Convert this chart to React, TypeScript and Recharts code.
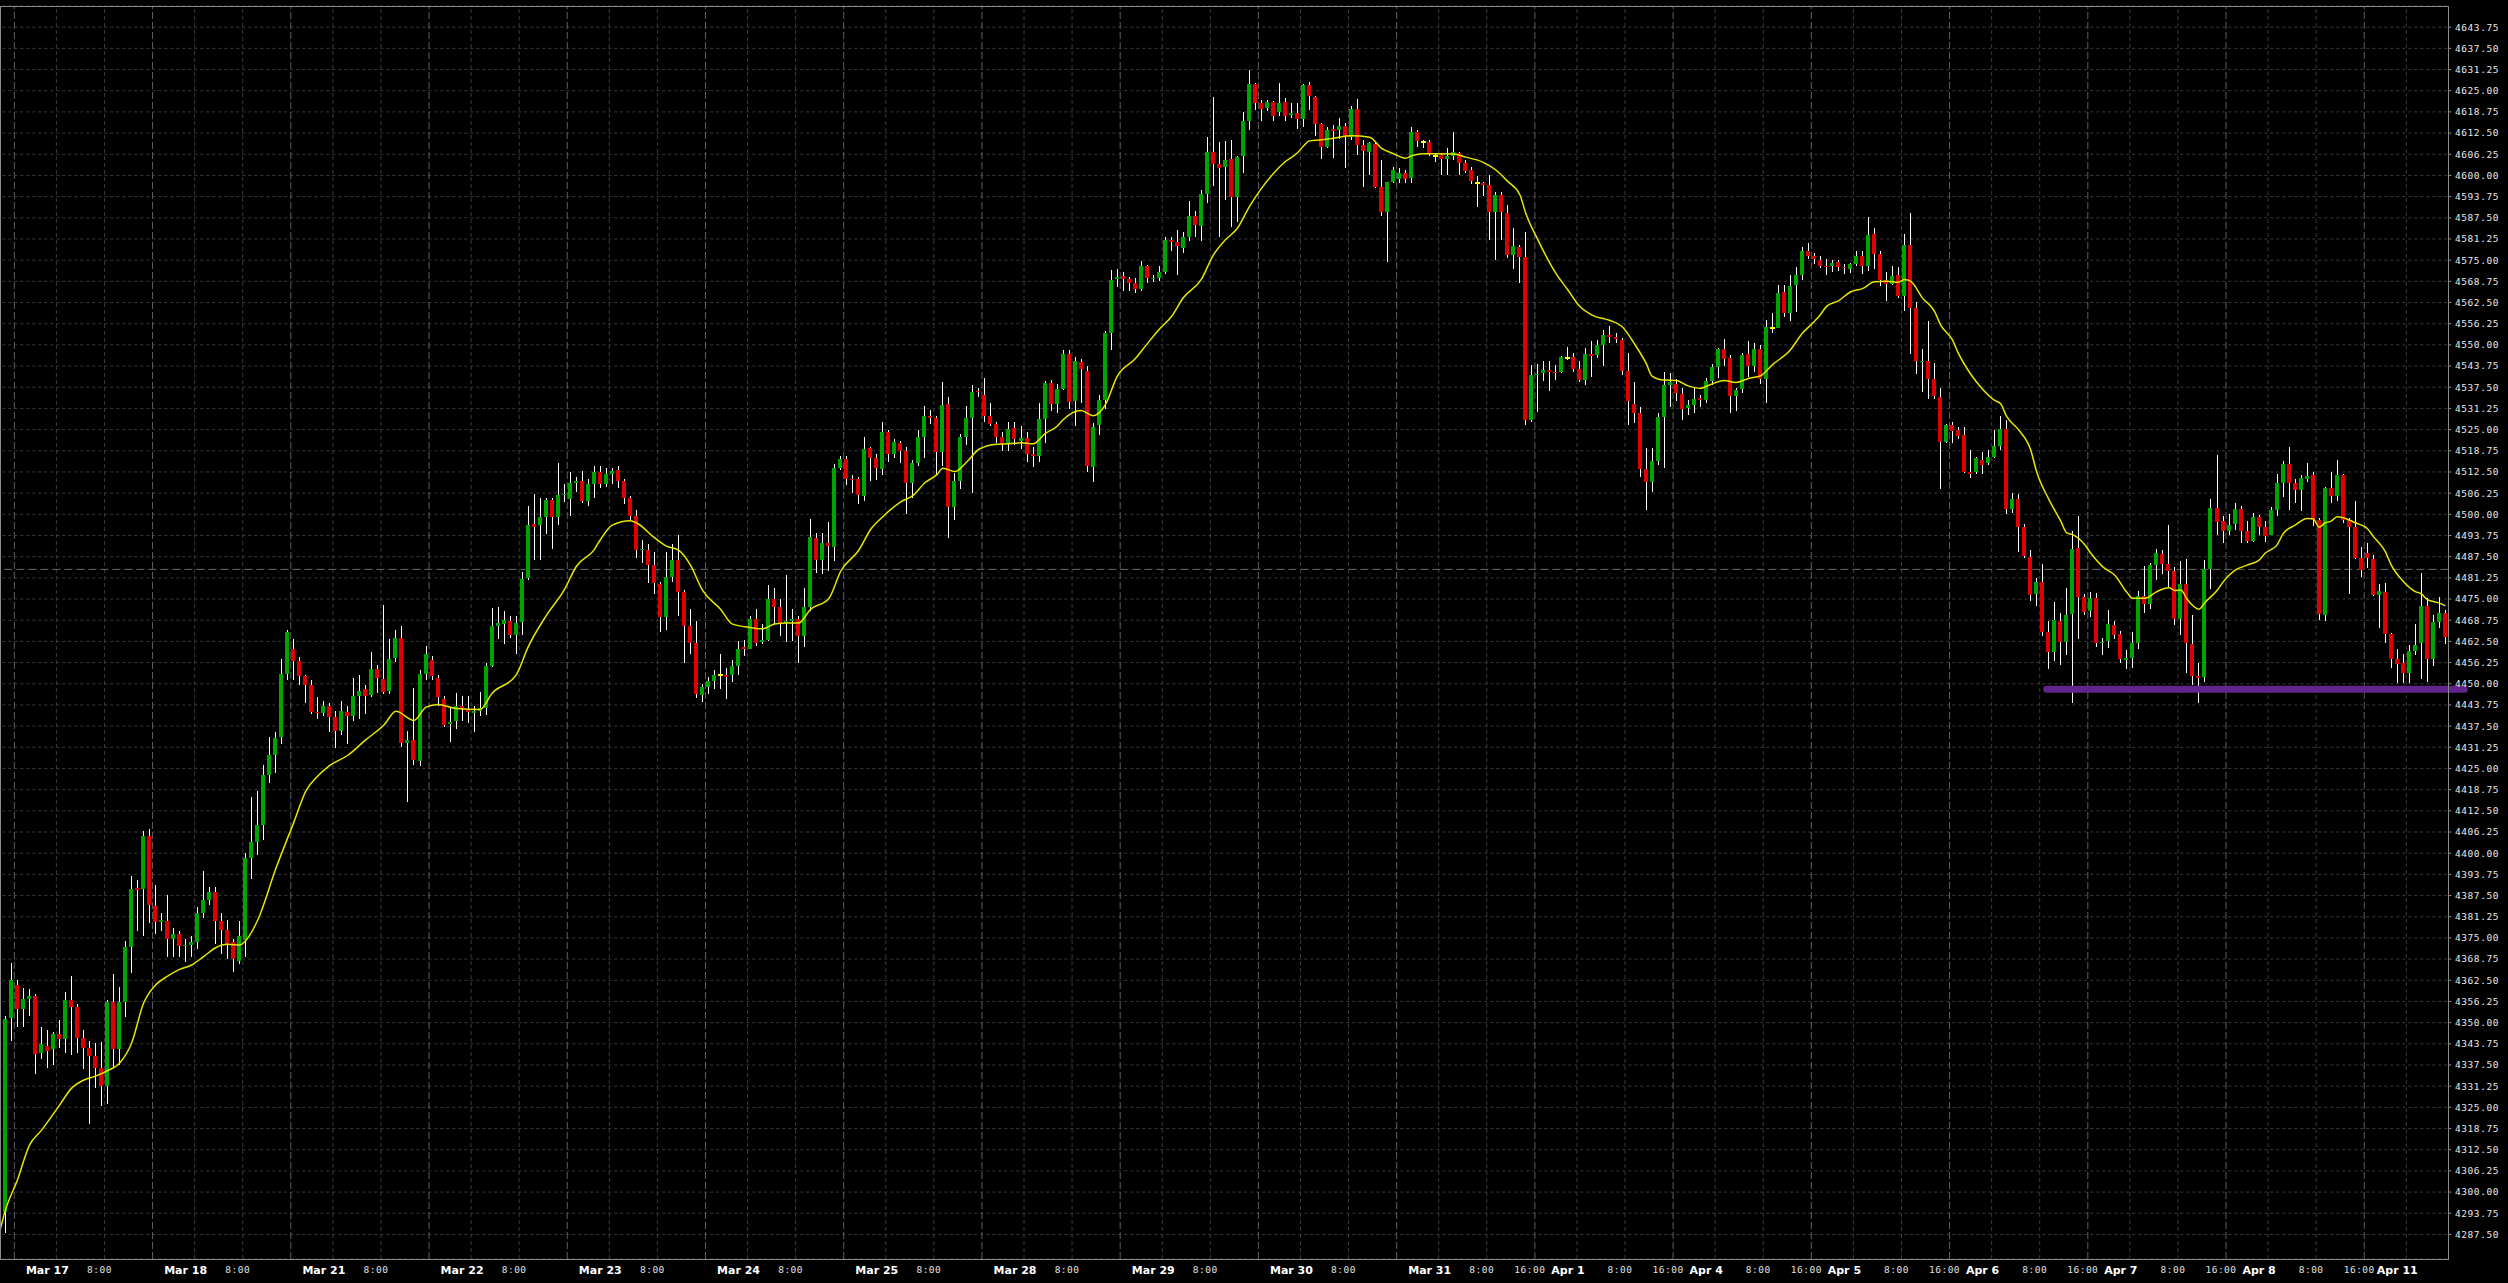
import React from "react";
import { ComposedChart, Bar, Line, XAxis, YAxis, CartesianGrid, ReferenceLine } from "recharts";

// ---------- hourly OHLC (bar index 0..407) ----------
const opens = [
  4307.7, 4294.2, 4351.5, 4361.1, 4354.0, 4357.0, 4357.8, 4341.1, 4343.0, 4342.3,
  4346.5, 4345.3, 4356.7, 4354.6, 4345.6, 4342.4, 4340.1, 4336.7, 4331.3, 4356.2,
  4342.2, 4356.2, 4372.4, 4389.6, 4389.3, 4405.0, 4384.5, 4379.6, 4380.0, 4374.8,
  4376.3, 4372.5, 4373.0, 4373.8, 4382.4, 4386.2, 4388.5, 4380.1, 4377.4, 4373.7,
  4368.3, 4374.5, 4398.7, 4403.3, 4408.4, 4423.1, 4428.9, 4434.3, 4452.9, 4460.2,
  4456.7, 4452.3, 4449.5, 4441.6, 4441.3, 4443.4, 4440.1, 4436.1, 4441.6, 4440.4,
  4446.5, 4448.4, 4446.8, 4454.4, 4451.3, 4448.0, 4457.6, 4463.5, 4432.4, 4433.5,
  4427.1, 4453.0, 4457.0, 4451.8, 4445.4, 4438.1, 4439.1, 4443.4, 4442.2, 4441.4,
  4441.9, 4442.7, 4455.3, 4467.0, 4467.7, 4468.6, 4464.3, 4468.3, 4481.1, 4497.1,
  4496.8, 4499.1, 4504.3, 4499.1, 4505.8, 4504.4, 4509.3, 4509.7, 4503.9, 4509.0,
  4512.5, 4509.0, 4511.9, 4513.1, 4509.9, 4504.9, 4499.6, 4489.4, 4489.6, 4485.0,
  4479.4, 4469.8, 4481.6, 4486.5, 4477.2, 4466.9, 4462.1, 4446.8, 4449.0, 4450.9,
  4452.5, 4452.6, 4452.5, 4455.2, 4460.7, 4460.4, 4469.1, 4462.4, 4462.9, 4475.1,
  4472.6, 4468.0, 4468.6, 4469.1, 4464.2, 4472.6, 4493.1, 4486.5, 4491.5, 4490.4,
  4513.6, 4516.3, 4510.5, 4510.3, 4505.5, 4519.6, 4516.7, 4513.4, 4524.2, 4517.9,
  4521.1, 4518.8, 4509.3, 4515.1, 4522.7, 4529.1, 4528.3, 4518.3, 4532.5, 4502.1,
  4509.9, 4522.7, 4528.3, 4536.3, 4535.3, 4529.1, 4526.6, 4522.7, 4521.1, 4525.4,
  4521.7, 4522.5, 4517.9, 4517.3, 4528.1, 4538.7, 4532.5, 4537.0, 4547.4, 4533.5,
  4545.0, 4542.2, 4514.0, 4526.3, 4533.7, 4553.4, 4569.3, 4570.4, 4569.3, 4568.3,
  4566.4, 4573.2, 4569.3, 4569.8, 4571.4, 4580.9, 4580.3, 4578.6, 4581.9, 4587.9,
  4585.0, 4594.4, 4607.0, 4603.4, 4602.4, 4604.8, 4593.5, 4605.6, 4616.1, 4627.0,
  4621.5, 4619.8, 4621.7, 4618.6, 4621.7, 4617.8, 4618.4, 4616.8, 4626.7, 4623.0,
  4615.1, 4608.5, 4613.6, 4613.4, 4614.7, 4611.3, 4619.5, 4609.0, 4607.0, 4609.3,
  4596.7, 4589.3, 4598.2, 4599.0, 4600.6, 4599.1, 4612.8, 4610.0, 4610.0, 4605.6,
  4606.1, 4604.8, 4605.6, 4606.6, 4603.6, 4601.6, 4597.9, 4597.7, 4597.2, 4589.3,
  4594.3, 4588.8, 4576.5, 4578.8, 4575.8, 4527.8, 4541.1, 4541.8, 4542.6, 4542.1,
  4542.1, 4546.2, 4546.3, 4542.8, 4539.6, 4547.3, 4547.0, 4550.0, 4552.9, 4552.2,
  4551.5, 4542.3, 4532.6, 4530.0, 4513.4, 4509.6, 4515.7, 4528.6, 4538.2, 4538.5,
  4535.5, 4531.3, 4532.3, 4534.2, 4533.7, 4539.3, 4543.6, 4548.7, 4546.0, 4535.0,
  4536.9, 4547.3, 4543.9, 4548.8, 4539.8, 4554.9, 4555.1, 4565.5, 4559.3, 4567.7,
  4570.6, 4577.8, 4576.3, 4575.1, 4573.3, 4573.3, 4574.4, 4573.0, 4572.5, 4573.8,
  4576.3, 4573.3, 4582.8, 4576.8, 4569.0, 4568.0, 4570.6, 4564.3, 4579.5, 4560.9,
  4544.8, 4545.3, 4539.9, 4534.6, 4521.4, 4526.4, 4524.9, 4523.4, 4512.5, 4512.5,
  4516.1, 4515.0, 4517.0, 4520.1, 4525.1, 4501.7, 4504.5, 4496.3, 4487.5, 4476.4,
  4480.0, 4465.4, 4459.4, 4468.6, 4462.4, 4470.5, 4490.0, 4475.7, 4471.5, 4475.2,
  4461.9, 4462.6, 4467.3, 4464.6, 4457.1, 4457.6, 4462.1, 4475.9, 4473.5, 4485.0,
  4488.3, 4485.3, 4483.3, 4469.1, 4479.3, 4461.8, 4452.3, 4452.1, 4484.0, 4501.8,
  4498.0, 4495.0, 4497.0, 4501.7, 4495.2, 4492.2, 4499.2, 4496.3, 4494.0, 4501.2,
  4509.2, 4514.8, 4509.2, 4507.2, 4510.5, 4511.5, 4498.2, 4470.3, 4507.8, 4505.5,
  4511.5, 4498.2, 4496.2, 4487.0, 4488.7, 4486.8, 4476.2, 4477.2, 4464.8, 4457.4,
  4456.1, 4453.1, 4459.8, 4461.9, 4473.0, 4457.4, 4468.3, 4470.8,
];

const highs = [
  4309.0, 4351.9, 4367.7, 4362.6, 4360.1, 4359.8, 4358.5, 4348.6, 4347.9, 4347.3,
  4350.7, 4359.1, 4363.7, 4355.5, 4347.9, 4344.6, 4344.1, 4344.3, 4356.7, 4364.3,
  4360.6, 4374.1, 4393.4, 4392.0, 4406.5, 4407.0, 4390.5, 4382.4, 4387.8, 4377.9,
  4377.1, 4374.8, 4375.6, 4384.0, 4394.6, 4390.1, 4390.1, 4382.4, 4380.4, 4374.8,
  4380.1, 4400.0, 4416.7, 4418.3, 4425.9, 4434.3, 4435.8, 4457.4, 4465.8, 4463.2,
  4457.9, 4452.5, 4451.0, 4446.0, 4444.9, 4444.2, 4441.9, 4444.9, 4443.4, 4451.8,
  4452.6, 4449.5, 4459.4, 4455.6, 4473.1, 4463.2, 4465.8, 4467.0, 4436.0, 4448.8,
  4454.1, 4461.0, 4458.2, 4452.6, 4446.5, 4442.7, 4447.2, 4446.5, 4446.5, 4443.4,
  4447.5, 4456.1, 4472.4, 4472.7, 4471.6, 4470.1, 4470.1, 4483.1, 4502.6, 4505.9,
  4504.9, 4504.9, 4504.9, 4515.1, 4509.0, 4512.5, 4511.0, 4512.8, 4510.5, 4514.3,
  4514.3, 4513.6, 4513.6, 4514.3, 4510.5, 4505.5, 4501.2, 4492.5, 4491.2, 4489.0,
  4480.1, 4488.8, 4491.2, 4494.0, 4477.6, 4472.0, 4468.6, 4450.0, 4452.1, 4454.0,
  4458.7, 4454.6, 4457.1, 4462.7, 4462.9, 4470.1, 4472.0, 4467.6, 4479.1, 4478.2,
  4475.1, 4482.0, 4472.0, 4469.9, 4478.2, 4498.7, 4494.4, 4494.4, 4497.7, 4514.8,
  4517.3, 4517.3, 4511.7, 4511.1, 4522.9, 4519.8, 4517.9, 4527.3, 4524.8, 4522.3,
  4521.7, 4519.8, 4516.1, 4524.8, 4532.0, 4530.8, 4529.1, 4539.1, 4534.7, 4512.1,
  4523.8, 4532.0, 4538.1, 4537.2, 4540.3, 4532.9, 4527.3, 4524.2, 4527.3, 4527.3,
  4526.0, 4524.2, 4519.8, 4532.9, 4539.4, 4539.7, 4538.5, 4548.6, 4548.4, 4546.5,
  4545.7, 4543.7, 4527.0, 4535.3, 4554.0, 4572.0, 4572.4, 4571.4, 4570.1, 4569.8,
  4574.7, 4573.5, 4570.5, 4573.2, 4581.9, 4581.7, 4583.8, 4583.2, 4592.5, 4589.4,
  4595.6, 4611.4, 4623.2, 4610.0, 4610.2, 4610.5, 4605.6, 4618.6, 4631.1, 4627.4,
  4622.3, 4622.3, 4622.0, 4627.4, 4622.8, 4621.3, 4621.3, 4627.0, 4627.7, 4623.5,
  4615.4, 4614.4, 4614.9, 4616.9, 4615.6, 4620.5, 4622.5, 4610.5, 4610.0, 4609.5,
  4604.6, 4598.2, 4602.6, 4602.1, 4601.6, 4614.4, 4613.4, 4610.5, 4610.5, 4606.5,
  4606.5, 4608.0, 4612.7, 4607.0, 4604.6, 4602.6, 4599.7, 4598.2, 4600.2, 4595.2,
  4595.2, 4591.3, 4584.4, 4579.5, 4583.4, 4544.1, 4544.4, 4545.1, 4545.1, 4544.1,
  4546.7, 4549.3, 4547.5, 4545.1, 4549.0, 4551.0, 4551.5, 4554.4, 4555.6, 4553.6,
  4551.9, 4547.7, 4538.9, 4531.8, 4519.5, 4519.5, 4529.8, 4542.1, 4541.8, 4539.8,
  4537.2, 4533.8, 4537.2, 4535.2, 4540.1, 4544.4, 4549.0, 4551.6, 4547.0, 4537.2,
  4547.7, 4551.0, 4550.5, 4550.0, 4557.4, 4559.5, 4567.7, 4567.7, 4570.6, 4572.9,
  4578.8, 4580.2, 4577.0, 4576.1, 4575.3, 4575.1, 4575.0, 4574.0, 4574.3, 4577.8,
  4577.8, 4587.6, 4584.6, 4577.8, 4571.6, 4573.3, 4573.0, 4582.8, 4589.0, 4562.8,
  4548.9, 4556.9, 4544.7, 4537.4, 4526.7, 4527.1, 4525.7, 4525.7, 4519.1, 4517.0,
  4518.4, 4519.1, 4524.9, 4528.9, 4527.7, 4506.2, 4506.0, 4497.2, 4489.5, 4481.2,
  4485.2, 4468.6, 4474.2, 4470.8, 4478.2, 4495.2, 4499.5, 4476.5, 4477.2, 4476.8,
  4463.6, 4471.8, 4468.6, 4465.6, 4460.1, 4465.3, 4477.5, 4484.8, 4485.5, 4489.8,
  4489.5, 4496.8, 4484.5, 4486.2, 4486.8, 4470.3, 4456.1, 4486.5, 4504.5, 4517.5,
  4499.5, 4500.0, 4503.2, 4502.5, 4498.0, 4500.5, 4499.8, 4498.0, 4502.2, 4512.0,
  4515.8, 4519.8, 4510.5, 4511.5, 4515.2, 4512.5, 4498.8, 4508.2, 4512.5, 4515.9,
  4511.8, 4499.0, 4503.8, 4490.5, 4491.5, 4488.0, 4479.5, 4479.8, 4465.1, 4460.3,
  4458.9, 4461.3, 4467.5, 4482.8, 4475.2, 4470.3, 4475.5, 4471.8,
];

const lows = [
  4292.0, 4287.9, 4344.6, 4348.8, 4348.8, 4351.9, 4334.7, 4339.2, 4336.5, 4337.5,
  4342.5, 4341.0, 4340.4, 4340.9, 4336.2, 4320.2, 4330.6, 4325.4, 4325.9, 4336.5,
  4337.5, 4351.7, 4364.6, 4377.1, 4375.6, 4379.4, 4376.3, 4377.1, 4369.5, 4369.5,
  4369.5, 4368.0, 4369.5, 4371.8, 4380.9, 4384.7, 4373.3, 4370.2, 4368.7, 4364.9,
  4367.2, 4369.5, 4392.3, 4399.5, 4403.8, 4420.6, 4423.6, 4432.3, 4451.0, 4451.0,
  4449.5, 4444.2, 4441.1, 4439.6, 4440.4, 4435.8, 4430.9, 4435.0, 4432.3, 4438.9,
  4439.6, 4441.1, 4446.0, 4447.2, 4446.9, 4446.9, 4456.4, 4431.2, 4415.2, 4425.9,
  4425.6, 4451.0, 4451.0, 4443.4, 4437.3, 4432.7, 4436.6, 4438.9, 4438.4, 4435.8,
  4440.4, 4440.8, 4454.9, 4463.2, 4461.7, 4463.5, 4458.7, 4464.3, 4480.5, 4486.6,
  4486.6, 4494.2, 4489.9, 4496.8, 4503.6, 4499.4, 4506.7, 4503.3, 4502.4, 4504.9,
  4507.9, 4508.2, 4509.0, 4507.9, 4503.0, 4498.1, 4487.1, 4485.7, 4479.7, 4476.6,
  4465.2, 4465.8, 4480.1, 4470.1, 4456.2, 4458.9, 4445.9, 4444.7, 4447.1, 4448.4,
  4448.4, 4445.5, 4450.5, 4452.7, 4458.3, 4460.2, 4461.2, 4461.7, 4462.7, 4467.6,
  4464.2, 4462.4, 4462.7, 4456.2, 4460.8, 4471.4, 4482.8, 4482.5, 4483.2, 4486.3,
  4513.0, 4508.6, 4506.2, 4503.0, 4503.9, 4509.9, 4510.1, 4511.7, 4515.5, 4516.7,
  4515.1, 4500.2, 4504.9, 4514.2, 4516.7, 4526.6, 4511.7, 4514.2, 4493.1, 4498.4,
  4507.6, 4520.4, 4506.4, 4534.7, 4527.3, 4526.0, 4521.1, 4518.8, 4518.6, 4520.4,
  4519.2, 4515.5, 4514.0, 4515.5, 4521.1, 4530.4, 4530.0, 4536.8, 4531.2, 4526.0,
  4532.9, 4512.4, 4509.6, 4523.5, 4531.0, 4548.4, 4567.0, 4566.0, 4565.8, 4565.2,
  4566.0, 4568.3, 4568.5, 4568.9, 4571.0, 4577.6, 4570.7, 4577.0, 4580.7, 4581.9,
  4580.7, 4591.9, 4596.8, 4581.9, 4592.8, 4584.9, 4586.4, 4600.8, 4613.4, 4619.3,
  4616.1, 4619.0, 4616.1, 4617.4, 4616.1, 4616.9, 4613.6, 4614.4, 4619.3, 4611.5,
  4604.8, 4608.0, 4605.1, 4610.7, 4602.1, 4610.5, 4606.1, 4596.7, 4600.2, 4596.2,
  4587.9, 4574.6, 4597.9, 4597.7, 4597.7, 4597.9, 4608.5, 4608.0, 4605.6, 4604.1,
  4600.2, 4600.2, 4604.6, 4600.2, 4600.6, 4597.5, 4590.6, 4593.8, 4581.0, 4574.9,
  4581.0, 4575.6, 4572.3, 4568.2, 4526.4, 4527.3, 4530.3, 4539.2, 4536.5, 4539.5,
  4541.6, 4545.5, 4542.1, 4538.9, 4538.2, 4540.6, 4546.2, 4543.8, 4550.5, 4550.5,
  4541.1, 4526.4, 4526.9, 4511.1, 4501.3, 4506.7, 4514.6, 4513.6, 4531.8, 4533.3,
  4527.8, 4529.3, 4529.8, 4531.8, 4532.9, 4538.2, 4540.1, 4543.8, 4530.0, 4530.6,
  4535.9, 4540.6, 4542.1, 4538.5, 4532.8, 4553.4, 4554.9, 4558.3, 4556.9, 4559.8,
  4569.2, 4575.3, 4573.9, 4572.6, 4570.6, 4571.6, 4571.9, 4571.0, 4571.3, 4573.3,
  4571.0, 4571.8, 4572.3, 4567.3, 4563.0, 4567.8, 4563.8, 4560.1, 4547.4, 4541.4,
  4536.1, 4534.1, 4533.9, 4507.5, 4520.9, 4521.1, 4522.2, 4512.2, 4510.8, 4511.8,
  4511.8, 4514.5, 4516.5, 4518.9, 4500.2, 4500.5, 4488.8, 4487.2, 4474.5, 4473.0,
  4464.1, 4454.3, 4456.6, 4455.6, 4458.6, 4444.3, 4463.1, 4470.3, 4469.8, 4460.9,
  4458.6, 4460.6, 4463.1, 4456.1, 4454.3, 4454.6, 4460.3, 4470.8, 4472.2, 4480.5,
  4482.5, 4478.5, 4467.3, 4464.3, 4453.3, 4449.6, 4444.3, 4450.6, 4478.0, 4494.0,
  4491.5, 4494.0, 4495.5, 4491.5, 4491.5, 4491.8, 4494.0, 4491.8, 4493.8, 4499.5,
  4505.0, 4501.2, 4503.2, 4501.0, 4509.5, 4496.5, 4468.8, 4468.6, 4503.2, 4504.0,
  4497.5, 4476.5, 4486.8, 4481.5, 4484.2, 4476.0, 4466.5, 4462.0, 4454.6, 4450.1,
  4450.1, 4450.1, 4458.6, 4451.3, 4450.6, 4455.3, 4466.5, 4461.6,
];

const closes = [
  4294.2, 4351.0, 4362.6, 4353.9, 4357.1, 4357.8, 4340.8, 4343.7, 4341.5, 4346.5,
  4345.3, 4356.7, 4354.7, 4345.6, 4342.6, 4340.1, 4336.7, 4331.3, 4356.2, 4342.2,
  4356.2, 4372.4, 4389.3, 4389.0, 4405.0, 4384.7, 4379.7, 4380.3, 4374.8, 4376.3,
  4372.5, 4373.0, 4373.8, 4382.4, 4386.2, 4388.5, 4380.1, 4377.4, 4373.3, 4368.7,
  4375.5, 4398.7, 4403.3, 4408.2, 4423.1, 4428.9, 4434.0, 4452.9, 4465.2, 4456.7,
  4452.3, 4449.5, 4441.6, 4441.3, 4443.4, 4440.1, 4436.1, 4441.9, 4440.4, 4446.5,
  4448.0, 4446.5, 4454.4, 4451.8, 4447.7, 4457.3, 4463.4, 4432.4, 4433.5, 4427.4,
  4453.0, 4458.7, 4452.3, 4446.0, 4437.8, 4438.7, 4443.4, 4442.7, 4441.6, 4441.9,
  4442.7, 4455.3, 4467.0, 4467.8, 4468.7, 4464.3, 4468.0, 4480.8, 4496.8, 4496.3,
  4499.1, 4504.3, 4499.1, 4505.8, 4506.1, 4509.3, 4509.9, 4503.9, 4509.0, 4512.5,
  4509.0, 4511.9, 4512.8, 4509.7, 4504.9, 4499.6, 4489.6, 4489.8, 4485.0, 4479.7,
  4469.8, 4481.6, 4486.5, 4477.2, 4466.9, 4462.1, 4447.1, 4449.0, 4450.9, 4452.5,
  4452.5, 4452.1, 4455.2, 4460.4, 4460.2, 4469.1, 4462.1, 4462.8, 4475.1, 4472.6,
  4467.6, 4468.5, 4469.1, 4464.2, 4472.6, 4493.4, 4486.5, 4491.5, 4490.6, 4513.6,
  4516.3, 4510.5, 4510.1, 4505.8, 4519.2, 4516.7, 4513.6, 4524.2, 4517.7, 4521.3,
  4518.8, 4509.3, 4515.1, 4522.7, 4529.1, 4528.3, 4518.3, 4532.2, 4502.1, 4509.9,
  4522.7, 4528.3, 4536.0, 4536.0, 4529.1, 4526.6, 4522.7, 4520.8, 4525.2, 4522.3,
  4522.5, 4517.9, 4517.3, 4528.1, 4538.7, 4532.5, 4537.0, 4547.4, 4533.2, 4545.3,
  4542.8, 4514.2, 4525.8, 4533.7, 4553.4, 4569.1, 4570.0, 4569.3, 4568.3, 4566.6,
  4573.2, 4569.8, 4569.8, 4571.4, 4580.9, 4580.3, 4579.1, 4581.9, 4587.9, 4585.3,
  4594.4, 4607.0, 4603.4, 4602.2, 4604.6, 4593.5, 4605.4, 4616.1, 4627.0, 4621.5,
  4619.6, 4621.7, 4617.4, 4621.5, 4617.4, 4618.4, 4616.8, 4626.7, 4623.3, 4615.1,
  4608.5, 4613.4, 4613.2, 4614.7, 4611.3, 4619.5, 4609.0, 4607.3, 4609.5, 4596.7,
  4589.3, 4598.0, 4601.6, 4600.6, 4599.0, 4612.8, 4610.2, 4610.0, 4606.3, 4605.6,
  4604.8, 4605.6, 4606.8, 4603.6, 4601.4, 4598.5, 4597.9, 4597.3, 4589.3, 4594.3,
  4589.3, 4576.5, 4579.2, 4575.8, 4527.8, 4541.1, 4541.4, 4542.6, 4542.1, 4541.8,
  4546.3, 4546.2, 4542.8, 4539.6, 4547.3, 4546.8, 4550.0, 4552.9, 4552.4, 4551.8,
  4542.3, 4533.3, 4529.8, 4513.4, 4509.6, 4515.7, 4528.6, 4538.2, 4538.9, 4535.7,
  4531.0, 4532.3, 4533.9, 4533.7, 4539.3, 4543.6, 4548.7, 4545.8, 4535.0, 4536.7,
  4547.0, 4543.9, 4548.8, 4539.8, 4555.2, 4554.9, 4565.2, 4559.3, 4567.4, 4570.6,
  4577.7, 4576.3, 4575.4, 4573.4, 4572.9, 4574.3, 4573.1, 4572.6, 4574.0, 4576.3,
  4573.3, 4582.5, 4576.8, 4569.0, 4568.0, 4570.3, 4564.3, 4579.5, 4560.9, 4545.1,
  4545.3, 4539.9, 4534.9, 4521.4, 4526.4, 4524.6, 4523.1, 4512.5, 4512.0, 4516.5,
  4514.6, 4517.0, 4520.1, 4525.1, 4501.7, 4504.5, 4496.3, 4487.7, 4476.2, 4480.0,
  4465.4, 4459.4, 4468.8, 4462.4, 4470.3, 4489.7, 4475.5, 4471.2, 4475.2, 4462.0,
  4462.4, 4467.7, 4464.4, 4457.4, 4457.5, 4461.9, 4475.9, 4473.5, 4485.0, 4488.5,
  4485.3, 4483.3, 4469.1, 4479.3, 4462.0, 4452.3, 4451.8, 4484.0, 4501.8, 4497.7,
  4495.0, 4496.8, 4501.5, 4495.2, 4492.2, 4499.2, 4496.3, 4493.7, 4501.2, 4509.2,
  4514.8, 4509.2, 4507.2, 4510.8, 4511.2, 4498.2, 4470.5, 4507.8, 4505.5, 4511.5,
  4498.2, 4496.2, 4487.2, 4483.7, 4487.0, 4476.2, 4477.5, 4464.8, 4457.4, 4455.9,
  4453.1, 4459.6, 4461.3, 4472.8, 4457.4, 4468.3, 4470.8, 4463.8,
];

// ---------- moving average readings: [bar index, value] ----------
const maReadings: [number, number][] = [
  [0, 4287.8], [1, 4294.6], [3, 4303.5], [5, 4313.8], [7, 4318.2], [10, 4325.6], [12, 4330.6], [14, 4333.0],
  [16, 4334.2], [18, 4335.8], [20, 4338.0], [22, 4343.9], [24, 4355.7], [26, 4361.1], [28, 4363.7], [30, 4365.7],
  [32, 4367.0], [34, 4369.5], [36, 4372.1], [38, 4373.1], [40, 4372.9], [41, 4374.2], [43, 4380.3], [46, 4395.4],
  [49, 4409.1], [51, 4418.3], [53, 4422.8], [55, 4425.9], [58, 4428.9], [61, 4433.5], [64, 4437.8], [66, 4441.9],
  [69, 4439.2], [71, 4443.1], [73, 4443.9], [76, 4442.7], [80, 4442.4], [82, 4447.2], [86, 4452.6], [88, 4460.9],
  [91, 4470.1], [94, 4477.7], [96, 4484.6], [99, 4489.6], [100, 4492.5], [102, 4496.8], [105, 4498.1], [106, 4497.5],
  [109, 4493.1], [111, 4490.6], [113, 4489.4], [115, 4485.0], [117, 4477.6], [120, 4472.0], [122, 4467.6], [125, 4466.6],
  [127, 4466.2], [129, 4467.6], [131, 4467.9], [133, 4467.9], [135, 4472.0], [138, 4475.1], [140, 4483.2], [143, 4489.4],
  [145, 4495.6], [147, 4499.3], [150, 4503.7], [152, 4505.5], [154, 4509.3], [156, 4511.7], [157, 4513.6], [159, 4512.6],
  [161, 4515.5], [163, 4519.2], [166, 4520.7], [168, 4520.8], [170, 4521.1], [172, 4520.8], [174, 4523.8], [176, 4526.0],
  [177, 4527.9], [180, 4530.6], [182, 4529.1], [184, 4532.2], [186, 4540.7], [189, 4545.9], [191, 4550.3], [193, 4554.6],
  [195, 4558.3], [197, 4563.9], [200, 4569.3], [202, 4576.5], [204, 4581.0], [206, 4584.4], [208, 4590.8], [210, 4596.2],
  [212, 4600.6], [214, 4604.1], [216, 4606.7], [217, 4608.7], [218, 4610.2], [220, 4610.5], [222, 4611.0], [225, 4611.7],
  [228, 4611.3], [230, 4608.0], [232, 4606.4], [234, 4605.1], [235, 4605.8], [237, 4606.4], [239, 4606.4], [242, 4606.3],
  [244, 4605.4], [247, 4603.8], [249, 4601.6], [251, 4598.2], [253, 4594.3], [254, 4588.8], [256, 4581.0], [259, 4571.1],
  [261, 4566.2], [263, 4561.3], [265, 4558.8], [268, 4557.2], [270, 4555.4], [272, 4550.5], [274, 4544.6], [275, 4540.8],
  [277, 4539.6], [279, 4539.5], [281, 4537.9], [283, 4537.2], [285, 4538.5], [287, 4539.5], [289, 4538.9], [291, 4540.1],
  [293, 4540.8], [295, 4544.1], [298, 4548.5], [300, 4553.4], [302, 4556.9], [303, 4558.9], [304, 4561.3], [306, 4563.0],
  [308, 4565.6], [310, 4566.6], [312, 4568.6], [314, 4568.8], [316, 4568.5], [317, 4569.3], [318, 4568.8], [320, 4563.8],
  [322, 4559.9], [323, 4555.9], [325, 4551.4], [326, 4547.4], [328, 4541.4], [330, 4536.9], [332, 4533.6], [333, 4532.6],
  [334, 4528.9], [336, 4524.9], [338, 4519.0], [339, 4512.5], [341, 4504.5], [343, 4498.0], [344, 4494.5], [345, 4494.0],
  [347, 4491.0], [348, 4488.5], [350, 4484.5], [352, 4482.0], [354, 4477.0], [355, 4475.2], [357, 4475.2], [359, 4477.2],
  [361, 4478.3], [362, 4477.5], [363, 4477.7], [364, 4475.0], [366, 4472.0], [367, 4474.0], [369, 4477.5], [370, 4480.0],
  [372, 4483.5], [374, 4485.0], [376, 4486.5], [377, 4488.5], [379, 4491.0], [380, 4494.3], [382, 4496.8], [384, 4498.8],
  [385, 4498.7], [386, 4496.2], [387, 4497.5], [388, 4498.0], [389, 4499.3], [390, 4499.0], [392, 4497.5], [394, 4495.8],
  [395, 4493.5], [397, 4489.0], [398, 4485.0], [400, 4480.2], [402, 4477.2], [403, 4476.5], [404, 4474.8], [406, 4473.8],
  [407, 4473.0],
];

// ---------- axis labels ----------
const dayLabels = [
  "Mar 17", "Mar 18", "Mar 21", "Mar 22", "Mar 23", "Mar 24", "Mar 25", "Mar 28", "Mar 29",
  "Mar 30", "Mar 31", "Apr 1", "Apr 4", "Apr 5", "Apr 6", "Apr 7", "Apr 8", "Apr 11",
];
const dateTickBars = [8, 31, 54, 77, 100, 123, 146, 169, 192, 215, 238, 261, 284, 307, 330, 353, 376, 399];
const hour8TickBars = [16, 39, 62, 85, 108, 131, 154, 177, 200, 223, 246, 269, 292, 315, 338, 361, 384];
const hour16TickBars = [254, 277, 300, 323, 346, 369, 392];
const daySeparatorBars = [2, 25, 48, 71, 94, 117, 140, 163, 186, 209, 232, 255, 278, 301, 324, 347, 370, 393];
const minorGridBars = [
  9, 17, 32, 40, 55, 63, 78, 86, 101, 109, 124, 132, 147, 155, 170, 178, 193, 201, 216, 224,
  239, 247, 262, 270, 285, 293, 308, 316, 331, 339, 354, 362, 377, 385, 400,
];
const yTicks = [
  4287.5, 4293.75, 4300, 4306.25, 4312.5, 4318.75, 4325, 4331.25, 4337.5, 4343.75, 4350, 4356.25,
  4362.5, 4368.75, 4375, 4381.25, 4387.5, 4393.75, 4400, 4406.25, 4412.5, 4418.75, 4425, 4431.25,
  4437.5, 4443.75, 4450, 4456.25, 4462.5, 4468.75, 4475, 4481.25, 4487.5, 4493.75, 4500, 4506.25,
  4512.5, 4518.75, 4525, 4531.25, 4537.5, 4543.75, 4550, 4556.25, 4562.5, 4568.75, 4575, 4581.25,
  4587.5, 4593.75, 4600, 4606.25, 4612.5, 4618.75, 4625, 4631.25, 4637.5, 4643.75,
];
const supportLevel = 4448.35;
const supportStartBar = 341;
const markerLevel = 4483.75;

// ---------- build table ----------
const data = opens.map((o, i) => ({
  i,
  o,
  h: highs[i],
  l: lows[i],
  c: closes[i],
  range: [lows[i], highs[i]],
  ma: null as number | null,
}));
maReadings.forEach(([b, v]) => {
  if (data[b]) data[b].ma = v;
});
const lastBar = data.length - 1;

const tickText = new Map<number, { text: string; bold: boolean }>();
dateTickBars.forEach((b, k) => tickText.set(b, { text: dayLabels[k], bold: true }));
hour8TickBars.forEach((b) => tickText.set(b, { text: "8:00", bold: false }));
hour16TickBars.forEach((b) => tickText.set(b, { text: "16:00", bold: false }));
const xTicks = Array.from(tickText.keys()).sort((a, b) => a - b);

const UP = "#00a400";
const DOWN = "#dc0000";
const DOJI = "#ffff00";
const WICK = "#ffffff";
const MONO = '"DejaVu Sans Mono", monospace';

function Candle(props: any) {
  const { x, y, width, height, payload } = props;
  if (x == null || y == null || !payload) return null;
  const top = Math.min(y, y + height);
  const bot = Math.max(y, y + height);
  const { o, c, h, l } = payload;
  const span = h - l || 1;
  const toY = (p: number) => top + ((h - p) / span) * (bot - top);
  const cx = Math.floor(x + width / 2);
  const yo = toY(o);
  const yc = toY(c);
  const bTop = Math.min(yo, yc);
  const bBot = Math.max(yo, yc);
  const doji = o === c;
  return (
    <g>
      <line x1={cx + 0.5} x2={cx + 0.5} y1={top} y2={bot} stroke={WICK} strokeWidth={1} shapeRendering="crispEdges" />
      {doji ? (
        <rect x={cx - 2} y={yo - 1} width={5} height={2} fill={DOJI} shapeRendering="crispEdges" />
      ) : (
        <rect
          x={cx - 2}
          y={bTop}
          width={4}
          height={Math.max(1, bBot - bTop)}
          fill={c > o ? UP : DOWN}
          shapeRendering="crispEdges"
        />
      )}
    </g>
  );
}

function XTick(props: any) {
  const { x, y, payload } = props;
  const lab = tickText.get(payload.value);
  if (!lab) return null;
  if (lab.bold) {
    return (
      <text x={x} y={y + 15} textAnchor="middle" fill="#ffffff" fontFamily='"DejaVu Sans", sans-serif' fontWeight="bold" fontSize={11}>
        {lab.text}
      </text>
    );
  }
  return (
    <text x={x + 4} y={y + 14} textAnchor="middle" fill="#e0e0e0" fontFamily={MONO} fontSize={9.5} letterSpacing={0.5}>
      {lab.text}
    </text>
  );
}

function YTick(props: any) {
  const { x, y, payload } = props;
  return (
    <text x={x} y={y} dy={3.4} textAnchor="start" fill="#e8e8e8" fontFamily={MONO} fontSize={9.5} letterSpacing={0.57}>
      {Number(payload.value).toFixed(2)}
    </text>
  );
}

export default function App() {
  return (
    <div style={{ position: "absolute", left: 0, top: 0, width: 2508, height: 1283, background: "#000", overflow: "hidden" }}>
      <ComposedChart
        width={2508}
        height={1283}
        data={data}
        margin={{ top: 6, right: 0, bottom: 0, left: -3.7 }}
        barCategoryGap={0}
        barGap={0}
      >
        <CartesianGrid vertical={false} stroke="#3a3a3a" strokeDasharray="3 3" />
        <XAxis
          dataKey="i"
          type="category"
          ticks={xTicks}
          interval={0}
          height={24}
          tickLine={false}
          axisLine={false}
          tickSize={0}
          tickMargin={0}
          tick={<XTick />}
        />
        <YAxis
          orientation="right"
          type="number"
          domain={[4280.25, 4650]}
          allowDataOverflow
          ticks={yTicks}
          interval={0}
          width={59.6}
          axisLine={false}
          tickLine={{ stroke: "#8c8c8c" }}
          tickSize={3}
          tickMargin={3.6}
          tick={<YTick />}
        />
        {minorGridBars.map((b) => (
          <ReferenceLine key={"m" + b} x={b} position="end" stroke="#3a3a3a" strokeDasharray="4 3" zIndex={-50} />
        ))}
        {daySeparatorBars.map((b) => (
          <ReferenceLine key={"d" + b} x={b} position="end" stroke="#5e5e5e" strokeDasharray="7 3" zIndex={-50} />
        ))}
        <ReferenceLine y={markerLevel} stroke="#6a6a6a" strokeDasharray="8 4" zIndex={-40} />
        <Bar dataKey="range" shape={<Candle />} isAnimationActive={false} />
        <Line
          dataKey="ma"
          type="monotone"
          stroke="#e6e600"
          strokeWidth={1.5}
          dot={false}
          activeDot={false}
          connectNulls
          isAnimationActive={false}
        />
        <ReferenceLine
          segment={[
            { x: supportStartBar, y: supportLevel },
            { x: lastBar, y: supportLevel },
          ]}
          zIndex={1500}
          shape={(p: any) => (
            <line x1={p.x1 - 2} y1={p.y1} x2={p.x2 + 19} y2={p.y2} stroke="#63238c" strokeWidth={7} strokeLinecap="round" />
          )}
        />
      </ComposedChart>
      <div
        style={{
          position: "absolute",
          left: 0,
          top: 6,
          width: 2449,
          height: 1254,
          boxSizing: "border-box",
          border: "1px solid #8a8a8a",
          pointerEvents: "none",
        }}
      />
    </div>
  );
}
